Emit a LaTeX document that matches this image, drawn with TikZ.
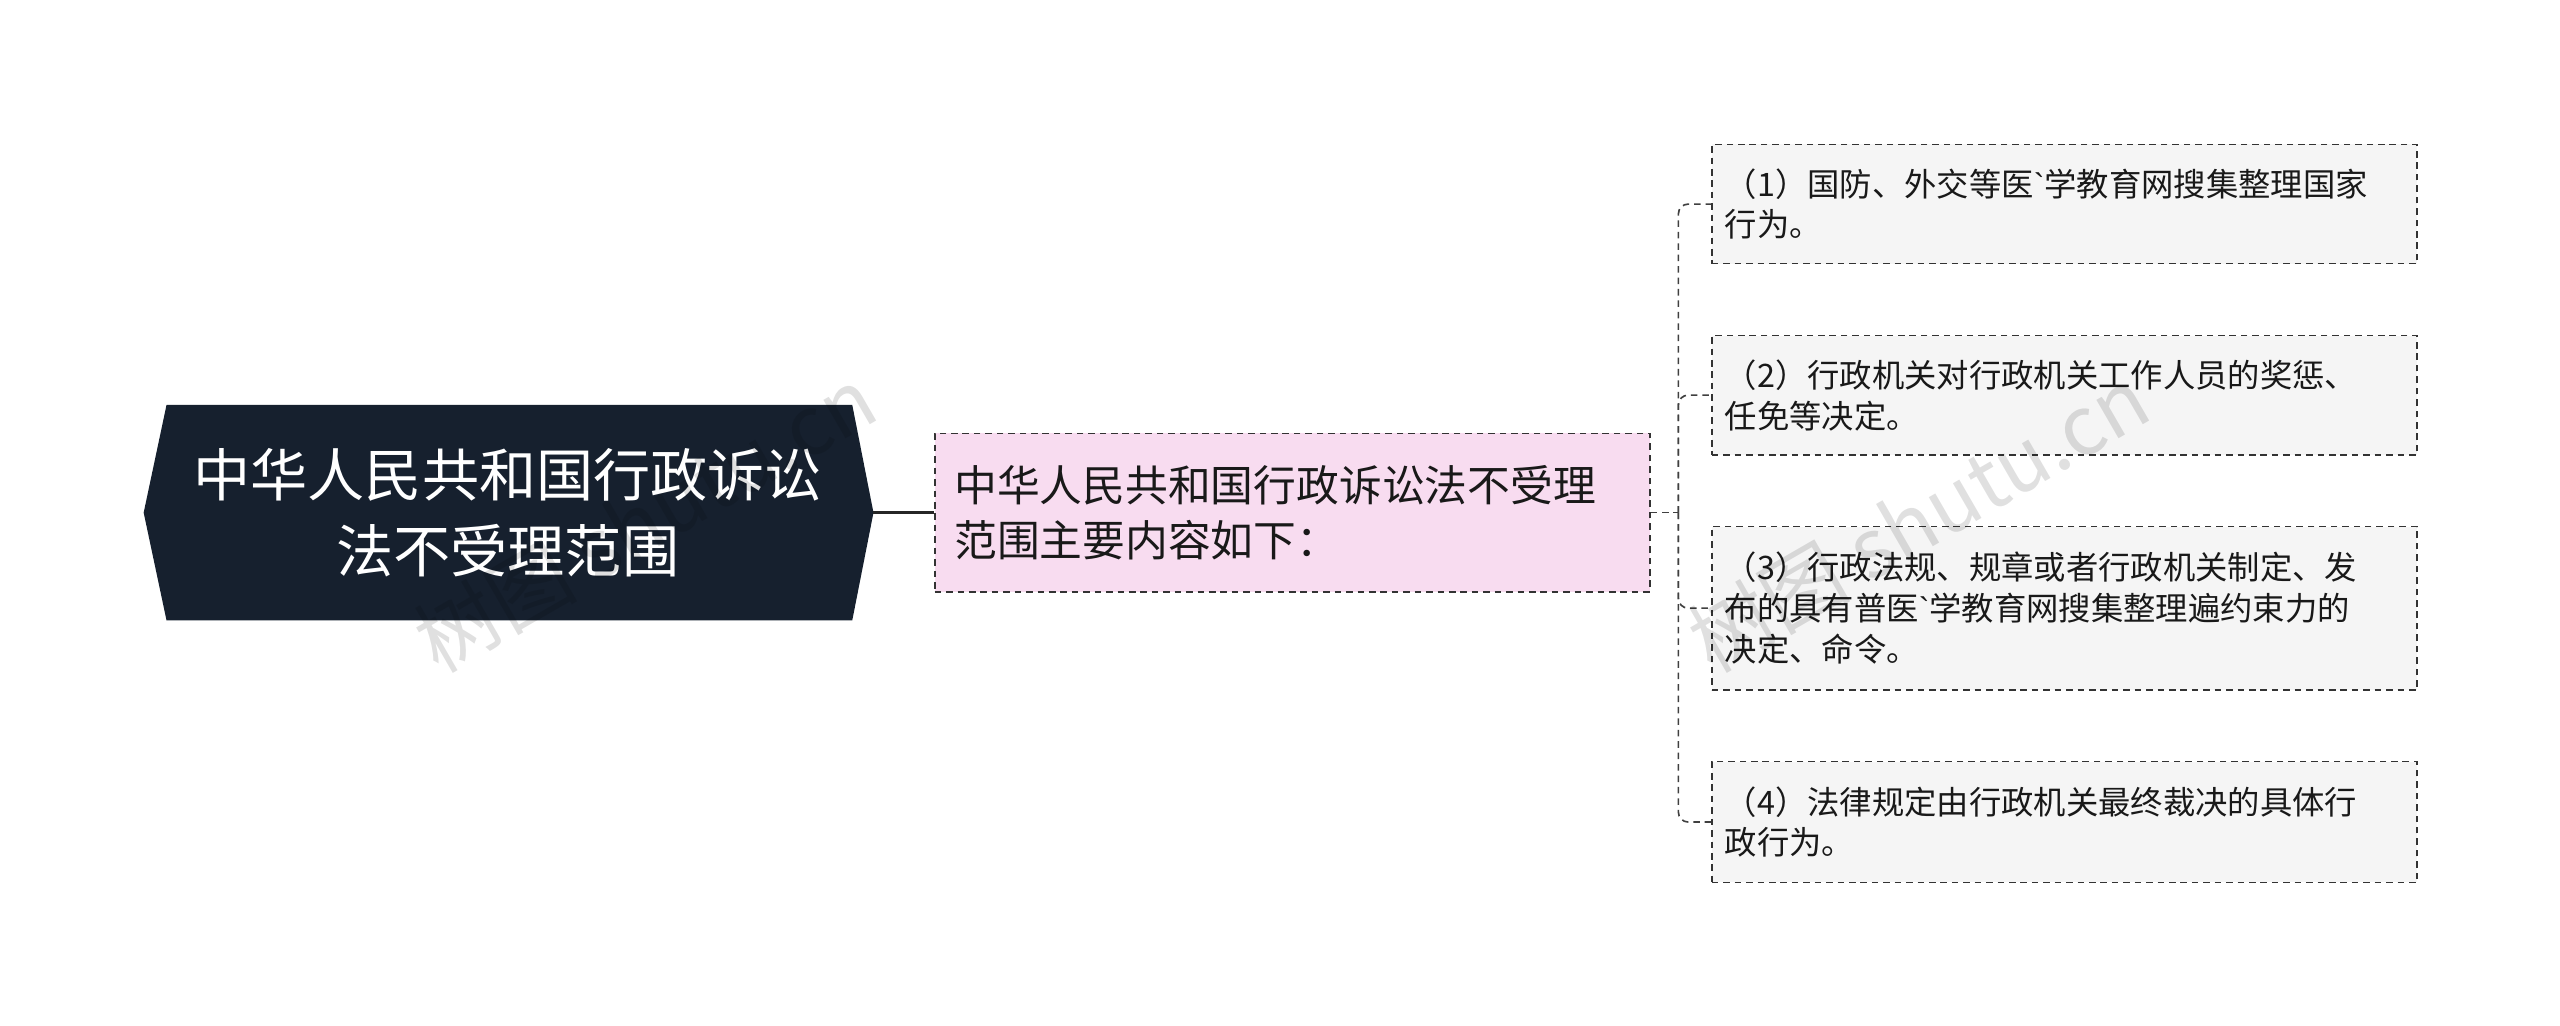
\documentclass[tikz,border=0pt]{standalone}
\usepackage{fontspec}
\setmainfont{Noto Sans CJK SC}
\newfontfamily\latf{Liberation Sans}
\newcommand{\bq}{{\latf\char96}}
\begin{document}
\begin{tikzpicture}[x=1pt,y=-1pt,
  leaf/.style={draw=black!80,dash pattern=on 4pt off 3pt,fill=black!4,line width=1pt,minimum width=432pt,text width=416pt,align=left,font=\fontsize{19.8}{25}\selectfont,inner xsep=8pt,inner ysep=6pt,anchor=north west,text=black!90},
  conn/.style={draw=black!75,dash pattern=on 4pt off 3pt,line width=1pt,rounded corners=6pt},
  wm/.style={text=black,opacity=0.12,font=\fontsize{50}{54}\selectfont,rotate=30}]
\useasboundingbox[fill=white] (0,0) rectangle (1568,628);
\fill[fill={rgb,255:red,22;green,32;blue,46}] (102,248) -- (522,248) -- (535,314) -- (522,380) -- (102,380) -- (88,314) -- cycle;
\node[text=white,align=center,font=\fontsize{35}{46}\selectfont] (root) at (311,314) {中华人民共和国行政诉讼\\法不受理范围};
\coordinate (rootE) at (535,314);
\node[draw=black!80,dash pattern=on 4pt off 3pt,line width=1pt,fill={rgb,255:red,248;green,220;blue,240},minimum width=438pt,minimum height=97pt,text width=414pt,align=left,font=\fontsize{26.2}{34}\selectfont,inner xsep=12pt,anchor=west,text=black!90] (mid) at (572,314) {中华人民共和国行政诉讼法不受理\\范围主要内容如下：};
\draw[line width=2pt,black!85] (rootE) -- (mid.west);
\node[leaf,minimum height=73pt] (a) at (1048,88) {（1）国防、外交等医\bq 学教育网搜集整理国家\\行为。};
\node[leaf,minimum height=73pt] (b) at (1048,205) {（2）行政机关对行政机关工作人员的奖惩、\\任免等决定。};
\node[leaf,minimum height=100pt] (c) at (1048,322) {（3）行政法规、规章或者行政机关制定、发\\布的具有普医\bq 学教育网搜集整理遍约束力的\\决定、命令。};
\node[leaf,minimum height=74pt] (d) at (1048,466) {（4）法律规定由行政机关最终裁决的具体行\\政行为。};
\coordinate (j) at (1028,314);
\draw[conn] (mid.east) -- (j);
\draw[conn] (j) |- (a.west);
\draw[conn] (j) |- (b.west);
\draw[conn] (j) |- (c.west);
\draw[conn] (j) |- (d.west);
\node[wm] at (395,318) {树图 shutu.cn};
\node[wm] at (1175,318) {树图 shutu.cn};
\end{tikzpicture}
\end{document}
